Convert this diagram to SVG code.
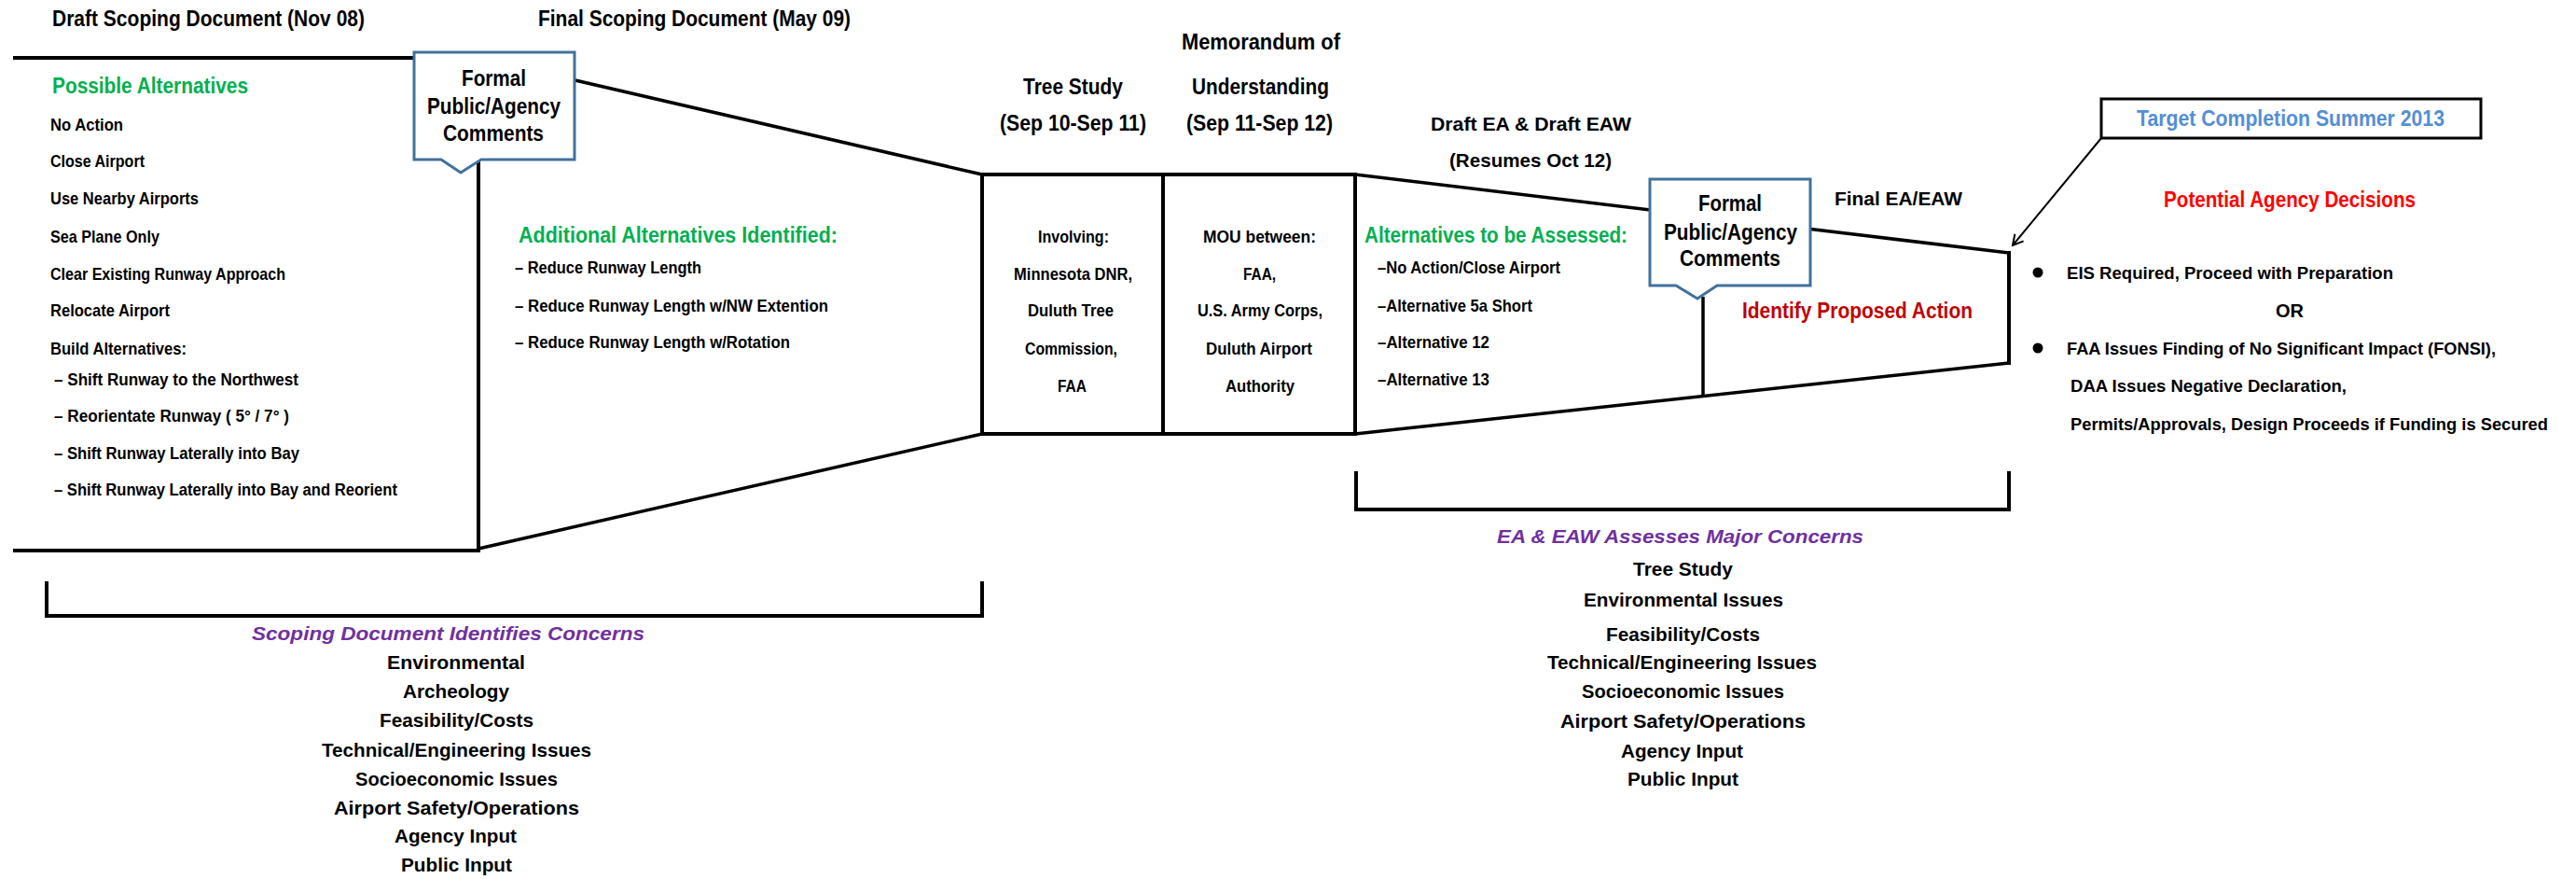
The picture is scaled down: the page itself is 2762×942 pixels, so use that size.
<svg xmlns="http://www.w3.org/2000/svg" width="2762" height="942" viewBox="0 0 2762 942">
<style>
.t{font-family:"Liberation Sans",Arial,sans-serif;font-weight:bold;fill:#000}
.h{font-size:23px}.s{font-size:19px}.m{font-size:21px}.c{font-size:23px}
.g{fill:#00B050}.r{fill:#C00000}.r2{fill:#FF0000}.p{fill:#7030A0;font-style:italic}.b{fill:#558ED5}
.ln{stroke:#000;stroke-width:4;fill:none;stroke-linecap:square}
.dl{stroke:#000;stroke-width:3.5;fill:none}
.co{fill:#fff;stroke:#41719C;stroke-width:3}
</style>
<defs>
<marker id="ah" markerWidth="14" markerHeight="14" refX="12" refY="7" orient="auto" markerUnits="userSpaceOnUse">
<path d="M1,1 L12,7 L1,13" fill="none" stroke="#000" stroke-width="2"/>
</marker>
</defs>
<rect width="2762" height="942" fill="#fff"/>

<g id="connectors">
<path class="ln" d="M16,62 H513"/>
<path class="ln" d="M513,175 V590 H16"/>
<path class="dl" d="M513,62 L1053,187"/>
<path class="dl" d="M513,588 L1053,465"/>
<path class="dl" d="M1453,187 L2154,271"/>
<path class="dl" d="M1453,465 L2154,389"/>
<path class="ln" d="M2154,271 V389"/>
<path class="dl" d="M1826,318 V424"/>
<path class="ln" d="M50,625 V660 H1053 V625"/>
<path class="ln" d="M1454,507 V546 H2154 V507"/>
<path d="M2253,148 L2158,263" stroke="#000" stroke-width="2" fill="none" marker-end="url(#ah)"/>
</g>

<g id="timeline-labels">
<text class="t h" x="56" y="28" textLength="335" lengthAdjust="spacingAndGlyphs">Draft Scoping Document (Nov 08)</text>
<text class="t h" x="577" y="28" textLength="335" lengthAdjust="spacingAndGlyphs">Final Scoping Document (May 09)</text>
<text class="t h" x="1267" y="53" textLength="170" lengthAdjust="spacingAndGlyphs">Memorandum of</text>
<text class="t h" x="1097" y="101" textLength="107" lengthAdjust="spacingAndGlyphs">Tree Study</text>
<text class="t h" x="1278" y="101" textLength="147" lengthAdjust="spacingAndGlyphs">Understanding</text>
<text class="t h" x="1072" y="140" textLength="157" lengthAdjust="spacingAndGlyphs">(Sep 10-Sep 11)</text>
<text class="t h" x="1272" y="140" textLength="157" lengthAdjust="spacingAndGlyphs">(Sep 11-Sep 12)</text>
<text class="t m" x="1534" y="140" textLength="215" lengthAdjust="spacingAndGlyphs">Draft EA &amp; Draft EAW</text>
<text class="t m" x="1554" y="179" textLength="174" lengthAdjust="spacingAndGlyphs">(Resumes Oct 12)</text>
<text class="t m" x="1967" y="220" textLength="137" lengthAdjust="spacingAndGlyphs">Final EA/EAW</text>
</g>

<g id="scoping-box">
<text class="t h g" x="56" y="100" textLength="210" lengthAdjust="spacingAndGlyphs">Possible Alternatives</text>
<text class="t s" x="54" y="140" textLength="78" lengthAdjust="spacingAndGlyphs">No Action</text>
<text class="t s" x="54" y="179" textLength="101" lengthAdjust="spacingAndGlyphs">Close Airport</text>
<text class="t s" x="54" y="219" textLength="159" lengthAdjust="spacingAndGlyphs">Use Nearby Airports</text>
<text class="t s" x="54" y="260" textLength="117" lengthAdjust="spacingAndGlyphs">Sea Plane Only</text>
<text class="t s" x="54" y="300" textLength="252" lengthAdjust="spacingAndGlyphs">Clear Existing Runway Approach</text>
<text class="t s" x="54" y="339" textLength="128" lengthAdjust="spacingAndGlyphs">Relocate Airport</text>
<text class="t s" x="54" y="380" textLength="146" lengthAdjust="spacingAndGlyphs">Build Alternatives:</text>
<text class="t s" x="58" y="413" textLength="262" lengthAdjust="spacingAndGlyphs">–  Shift Runway to the Northwest</text>
<text class="t s" x="58" y="452" textLength="252" lengthAdjust="spacingAndGlyphs">–  Reorientate Runway ( 5° / 7° )</text>
<text class="t s" x="58" y="492" textLength="263" lengthAdjust="spacingAndGlyphs">–  Shift Runway Laterally into Bay</text>
<text class="t s" x="58" y="531" textLength="368" lengthAdjust="spacingAndGlyphs">–  Shift Runway Laterally into Bay and Reorient</text>
</g>

<g id="callout-1">
<path class="co" d="M444,56 H616 V171 H516 L494,185 L473,171 H444 Z"/>
<text class="t c" x="495" y="92" textLength="69" lengthAdjust="spacingAndGlyphs">Formal</text>
<text class="t c" x="458" y="122" textLength="143" lengthAdjust="spacingAndGlyphs">Public/Agency</text>
<text class="t c" x="475" y="151" textLength="108" lengthAdjust="spacingAndGlyphs">Comments</text>
</g>

<g id="final-scoping">
<text class="t h g" x="556" y="260" textLength="342" lengthAdjust="spacingAndGlyphs">Additional Alternatives Identified:</text>
<text class="t s" x="552" y="293" textLength="200" lengthAdjust="spacingAndGlyphs">–  Reduce Runway Length</text>
<text class="t s" x="552" y="334" textLength="336" lengthAdjust="spacingAndGlyphs">–  Reduce Runway Length w/NW Extention</text>
<text class="t s" x="552" y="373" textLength="295" lengthAdjust="spacingAndGlyphs">–  Reduce Runway Length w/Rotation</text>
</g>

<g id="tree-study">
<rect x="1053" y="187" width="194" height="278" fill="none" stroke="#000" stroke-width="4"/>
<text class="t s" x="1113" y="260" textLength="76" lengthAdjust="spacingAndGlyphs">Involving:</text>
<text class="t s" x="1087" y="300" textLength="127" lengthAdjust="spacingAndGlyphs">Minnesota DNR,</text>
<text class="t s" x="1102" y="339" textLength="92" lengthAdjust="spacingAndGlyphs">Duluth Tree</text>
<text class="t s" x="1099" y="380" textLength="99" lengthAdjust="spacingAndGlyphs">Commission,</text>
<text class="t s" x="1134" y="420" textLength="31" lengthAdjust="spacingAndGlyphs">FAA</text>
</g>

<g id="mou">
<rect x="1247" y="187" width="206" height="278" fill="none" stroke="#000" stroke-width="4"/>
<text class="t s" x="1290" y="260" textLength="121" lengthAdjust="spacingAndGlyphs">MOU between:</text>
<text class="t s" x="1333" y="300" textLength="35" lengthAdjust="spacingAndGlyphs">FAA,</text>
<text class="t s" x="1284" y="339" textLength="134" lengthAdjust="spacingAndGlyphs">U.S. Army Corps,</text>
<text class="t s" x="1293" y="380" textLength="114" lengthAdjust="spacingAndGlyphs">Duluth Airport</text>
<text class="t s" x="1314" y="420" textLength="74" lengthAdjust="spacingAndGlyphs">Authority</text>
</g>

<g id="draft-ea">
<text class="t h g" x="1463" y="260" textLength="282" lengthAdjust="spacingAndGlyphs">Alternatives to be Assessed:</text>
<text class="t s" x="1477" y="293" textLength="196" lengthAdjust="spacingAndGlyphs">–No Action/Close Airport</text>
<text class="t s" x="1477" y="334" textLength="166" lengthAdjust="spacingAndGlyphs">–Alternative 5a Short</text>
<text class="t s" x="1477" y="373" textLength="120" lengthAdjust="spacingAndGlyphs">–Alternative 12</text>
<text class="t s" x="1477" y="413" textLength="120" lengthAdjust="spacingAndGlyphs">–Alternative 13</text>
</g>

<g id="callout-2">
<path class="co" d="M1769,192 H1941 V306 H1841 L1820,320 L1797,306 H1769 Z"/>
<text class="t c" x="1821" y="226" textLength="68" lengthAdjust="spacingAndGlyphs">Formal</text>
<text class="t c" x="1784" y="257" textLength="143" lengthAdjust="spacingAndGlyphs">Public/Agency</text>
<text class="t c" x="1801" y="285" textLength="108" lengthAdjust="spacingAndGlyphs">Comments</text>
</g>

<g id="final-ea">
<text class="t h r" x="1868" y="341" textLength="247" lengthAdjust="spacingAndGlyphs">Identify Proposed Action</text>
</g>

<g id="target-completion">
<rect x="2253" y="106" width="407" height="42" fill="#fff" stroke="#000" stroke-width="3"/>
<text class="t h b" x="2291" y="135" textLength="330" lengthAdjust="spacingAndGlyphs">Target Completion Summer 2013</text>
</g>

<g id="agency-decisions">
<text class="t h r2" x="2320" y="222" textLength="270" lengthAdjust="spacingAndGlyphs">Potential Agency Decisions</text>
<circle cx="2185" cy="292" r="5.5" fill="#000"/>
<text class="t s" x="2216" y="299" textLength="350" lengthAdjust="spacingAndGlyphs">EIS Required, Proceed with Preparation</text>
<text class="t m" x="2440" y="340" textLength="30" lengthAdjust="spacingAndGlyphs">OR</text>
<circle cx="2185" cy="373" r="5.5" fill="#000"/>
<text class="t s" x="2216" y="380" textLength="460" lengthAdjust="spacingAndGlyphs">FAA Issues Finding of No Significant Impact (FONSI),</text>
<text class="t s" x="2220" y="420" textLength="296" lengthAdjust="spacingAndGlyphs">DAA Issues Negative Declaration,</text>
<text class="t s" x="2220" y="461" textLength="512" lengthAdjust="spacingAndGlyphs">Permits/Approvals, Design Proceeds if Funding is Secured</text>
</g>

<g id="scoping-concerns">
<text class="t m p" x="270" y="686" textLength="421" lengthAdjust="spacingAndGlyphs">Scoping Document Identifies Concerns</text>
<text class="t m" x="415" y="717" textLength="148" lengthAdjust="spacingAndGlyphs">Environmental</text>
<text class="t m" x="432" y="748" textLength="114" lengthAdjust="spacingAndGlyphs">Archeology</text>
<text class="t m" x="407" y="779" textLength="165" lengthAdjust="spacingAndGlyphs">Feasibility/Costs</text>
<text class="t m" x="345" y="811" textLength="289" lengthAdjust="spacingAndGlyphs">Technical/Engineering Issues</text>
<text class="t m" x="381" y="842" textLength="217" lengthAdjust="spacingAndGlyphs">Socioeconomic Issues</text>
<text class="t m" x="358" y="873" textLength="263" lengthAdjust="spacingAndGlyphs">Airport Safety/Operations</text>
<text class="t m" x="423" y="903" textLength="131" lengthAdjust="spacingAndGlyphs">Agency Input</text>
<text class="t m" x="430" y="934" textLength="119" lengthAdjust="spacingAndGlyphs">Public Input</text>
</g>

<g id="ea-concerns">
<text class="t m p" x="1605" y="582" textLength="393" lengthAdjust="spacingAndGlyphs">EA &amp; EAW Assesses Major Concerns</text>
<text class="t m" x="1751" y="617" textLength="107" lengthAdjust="spacingAndGlyphs">Tree Study</text>
<text class="t m" x="1698" y="650" textLength="214" lengthAdjust="spacingAndGlyphs">Environmental Issues</text>
<text class="t m" x="1722" y="687" textLength="165" lengthAdjust="spacingAndGlyphs">Feasibility/Costs</text>
<text class="t m" x="1659" y="717" textLength="289" lengthAdjust="spacingAndGlyphs">Technical/Engineering Issues</text>
<text class="t m" x="1696" y="748" textLength="217" lengthAdjust="spacingAndGlyphs">Socioeconomic Issues</text>
<text class="t m" x="1673" y="780" textLength="263" lengthAdjust="spacingAndGlyphs">Airport Safety/Operations</text>
<text class="t m" x="1738" y="812" textLength="131" lengthAdjust="spacingAndGlyphs">Agency Input</text>
<text class="t m" x="1745" y="842" textLength="119" lengthAdjust="spacingAndGlyphs">Public Input</text>
</g>
</svg>
